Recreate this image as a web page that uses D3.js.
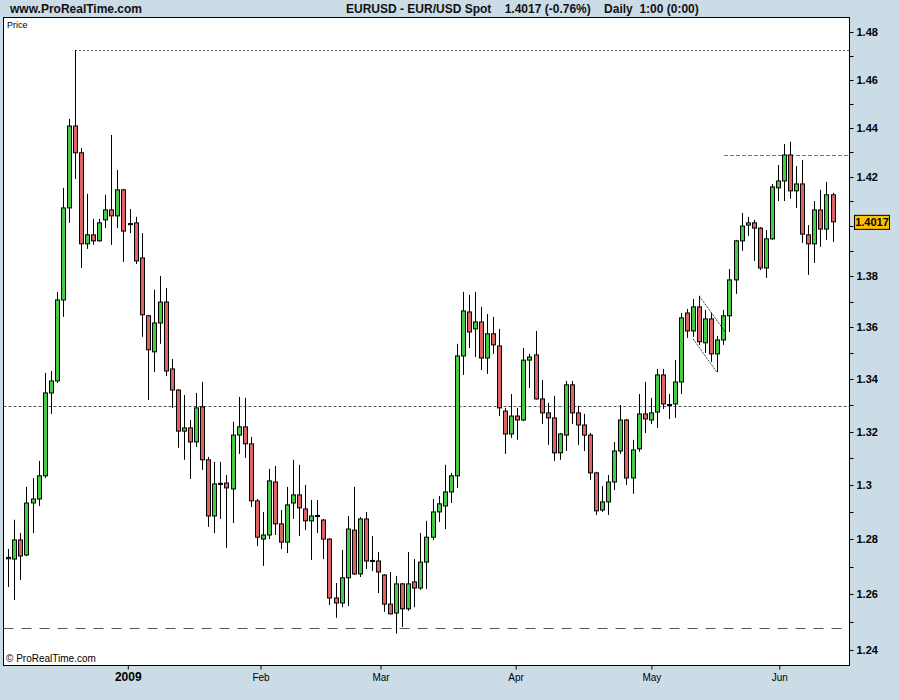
<!DOCTYPE html>
<html>
<head>
<meta charset="utf-8">
<script src="https://cdn.jsdelivr.net/npm/d3@7"></script>
<style>
  body { margin: 0; background: #cbdce6; }
  text { font-family: "Liberation Sans", Arial, sans-serif; }
</style>
</head>
<body>
<div id="chart"></div>
<script>
// daily EUR/USD candles: open, high, low, close
const opens = [1.2728,1.2727,1.2797,1.2742,1.2933,1.2948,1.3034,1.3347,1.3393,1.3707,1.4073,1.4407,1.4297,1.3929,1.3965,1.3941,1.4025,1.4065,1.4041,1.4146,
  1.4010,1.4013,1.3873,1.3645,1.3505,1.3617,1.3699,1.3439,1.3358,1.3202,1.3214,1.3161,1.3294,1.3094,1.2885,1.3006,1.3007,1.2985,1.3187,1.3218,
  1.3154,1.2941,1.2800,1.2815,1.3011,1.2856,1.2789,1.2933,1.2963,1.2911,1.2867,1.2887,1.2870,1.2800,1.2586,1.2568,1.2659,1.2833,1.2673,1.2874,
  1.2722,1.2720,1.2669,1.2564,1.2532,1.2637,1.2547,1.2644,1.2622,1.2716,1.2807,1.2900,1.2922,1.2974,1.3034,1.3489,1.3660,1.3594,1.3621,1.3481,
  1.3575,1.3528,1.3278,1.3191,1.3259,1.3244,1.3473,1.3493,1.3324,1.3271,1.3252,1.3120,1.3187,1.3378,1.3271,1.3225,1.3187,1.3045,1.2907,1.2937,
  1.3011,1.3127,1.3244,1.3026,1.3135,1.3267,1.3244,1.3274,1.3416,1.3303,1.3305,1.3389,1.3656,1.3586,1.3680,1.3540,1.3633,1.3497,1.3551,1.3645,
  1.3786,1.3941,1.4004,1.4013,1.3992,1.3833,1.3949,1.4154,1.4182,1.4288,1.4142,1.4170,1.3965,1.3929,1.4065,1.3988,1.4126];
const highs = [1.2764,1.2871,1.2822,1.2993,1.3026,1.3090,1.3424,1.3431,1.3739,1.4154,1.4436,1.4724,1.4317,1.4130,1.4029,1.4029,1.4126,1.4370,1.4227,1.4150,
  1.4069,1.4037,1.3972,1.3649,1.3747,1.3801,1.3754,1.3477,1.3362,1.3339,1.3244,1.3347,1.3389,1.3105,1.3086,1.3086,1.3037,1.3237,1.3332,1.3328,
  1.3180,1.2948,1.2900,1.3060,1.3071,1.2907,1.2993,1.3094,1.3075,1.3000,1.2944,1.2944,1.2874,1.2803,1.2640,1.2760,1.2885,1.2993,1.2881,1.2900,
  1.2811,1.2753,1.2672,1.2680,1.2666,1.2640,1.2753,1.2727,1.2822,1.2867,1.2948,1.2959,1.3075,1.3045,1.3536,1.3739,1.3727,1.3739,1.3680,1.3652,
  1.3641,1.3594,1.3290,1.3343,1.3290,1.3520,1.3497,1.3586,1.3397,1.3309,1.3336,1.3195,1.3393,1.3393,1.3298,1.3267,1.3195,1.3049,1.2996,1.3037,
  1.3161,1.3301,1.3248,1.3169,1.3343,1.3389,1.3328,1.3439,1.3439,1.3343,1.3473,1.3656,1.3672,1.3711,1.3723,1.3668,1.3656,1.3567,1.3668,1.3829,
  1.3945,1.4053,1.4037,1.4025,1.3996,1.3984,1.4170,1.4247,1.4333,1.4342,1.4243,1.4267,1.4004,1.4101,1.4146,1.4178,1.4134];
const lows = [1.2626,1.2579,1.2651,1.2738,1.2822,1.2922,1.3026,1.3267,1.3385,1.3641,1.4013,1.4190,1.3833,1.3909,1.3925,1.3938,1.3992,1.3925,1.3992,1.3857,
  1.3972,1.3849,1.3563,1.3320,1.3427,1.3536,1.3412,1.3290,1.3139,1.3094,1.3022,1.3142,1.3056,1.2845,1.2822,1.2874,1.2768,1.2859,1.3116,1.3101,
  1.2918,1.2775,1.2702,1.2800,1.2815,1.2764,1.2749,1.2874,1.2811,1.2834,1.2724,1.2822,1.2727,1.2561,1.2515,1.2553,1.2557,1.2670,1.2662,1.2691,
  1.2684,1.2604,1.2536,1.2527,1.2458,1.2482,1.2540,1.2553,1.2615,1.2619,1.2797,1.2863,1.2837,1.2933,1.2989,1.3416,1.3520,1.3485,1.3435,1.3420,
  1.3497,1.3259,1.3116,1.3176,1.3169,1.3240,1.3366,1.3322,1.3229,1.3150,1.3090,1.3094,1.3127,1.3229,1.3150,1.3127,1.3019,1.2889,1.2900,1.2889,
  1.2981,1.3116,1.3000,1.2967,1.3124,1.3195,1.3229,1.3214,1.3286,1.3248,1.3252,1.3343,1.3559,1.3563,1.3532,1.3501,1.3466,1.3427,1.3532,1.3582,
  1.3731,1.3901,1.3961,1.3861,1.3825,1.3794,1.3945,1.4101,1.4101,1.4110,1.4073,1.3933,1.3806,1.3853,1.3917,1.3945,1.3937];
const closes = [1.2733,1.2797,1.2738,1.2933,1.2948,1.3034,1.3347,1.3393,1.3707,1.4073,1.4407,1.4297,1.3929,1.3965,1.3941,1.4013,1.4065,1.4041,1.4146,1.3980,
  1.4006,1.3861,1.3649,1.3513,1.3617,1.3699,1.3431,1.3358,1.3202,1.3214,1.3161,1.3290,1.3094,1.2885,1.3004,1.3002,1.2989,1.3187,1.3218,1.3154,
  1.2941,1.2807,1.2815,1.3015,1.2856,1.2789,1.2926,1.2963,1.2915,1.2867,1.2885,1.2883,1.2800,1.2586,1.2568,1.2659,1.2837,1.2673,1.2874,1.2720,
  1.2719,1.2680,1.2564,1.2529,1.2637,1.2547,1.2637,1.2622,1.2716,1.2807,1.2900,1.2930,1.2974,1.3034,1.3489,1.3664,1.3582,1.3621,1.3481,1.3575,
  1.3532,1.3290,1.3191,1.3259,1.3244,1.3473,1.3485,1.3324,1.3271,1.3252,1.3120,1.3191,1.3378,1.3271,1.3225,1.3187,1.3045,1.2904,1.2937,1.3011,
  1.3127,1.3244,1.3026,1.3131,1.3267,1.3248,1.3271,1.3416,1.3305,1.3299,1.3389,1.3637,1.3586,1.3680,1.3544,1.3633,1.3497,1.3551,1.3645,1.3786,
  1.3941,1.4000,1.4013,1.3992,1.3833,1.3949,1.4158,1.4182,1.4288,1.4142,1.4170,1.3968,1.3929,1.4065,1.3988,1.4126,1.4017];

const priceTicks = [1.24,1.26,1.28,1.30,1.32,1.34,1.36,1.38,1.42,1.44,1.46,1.48];
const monthLabels = ["2009","Feb","Mar","Apr","May","Jun"];
const monthPos = [19.8,41.7,61.5,83.8,106.2,127.3]; // candle index of month start
const lastPrice = 1.4017;

// horizontal study lines: level, start index, style
const levels = [
  { p: 1.4724, from: 11, color: "#555", dash: "2,2" },
  { p: 1.4288, from: 118.1, color: "#2f7dff", dash: "4,2" },
  { p: 1.3297, from: -1, color: "#555", dash: "3,2" },
  { p: 1.2479, from: -1, color: "#555", dash: "10,8" }
];
// drawn flag lines [i1,p1,i2,p2]
const flagLines = [[114.0,1.3723,118.3,1.3582],[113.0,1.3555,116.9,1.3427]];

const W = 900, H = 700;
const plot = { left: 3.5, right: 849.5, top: 17.5, bottom: 665.5 };

const svg = d3.select("#chart").append("svg")
    .attr("width", W).attr("height", H);

svg.append("rect").attr("width", W).attr("height", H).attr("fill", "#cbdce6");
svg.append("rect")
    .attr("x", plot.left).attr("y", plot.top)
    .attr("width", plot.right - plot.left).attr("height", plot.bottom - plot.top)
    .attr("fill", "#fff").attr("stroke", "#000");

const x = d3.scaleLinear().domain([0, 136]).range([8.3, 832.5]);
const y = d3.scaleLog().domain([1.24, 1.48]).range([650, 32]);

// header
svg.append("text").attr("x", 10).attr("y", 13).text("www.ProRealTime.com")
    .style("font-size", "12px").style("font-weight", "bold").attr("fill", "#111");
svg.append("text").attr("x", 346).attr("y", 13)
    .text("EURUSD - EUR/USD Spot    1.4017 (-0.76%)    Daily  1:00 (0:00)")
    .attr("xml:space", "preserve")
    .style("font-size", "12px").style("font-weight", "bold").attr("fill", "#111");
svg.append("text").attr("x", 7).attr("y", 28).text("Price").style("font-size", "9px");
svg.append("text").attr("x", 6).attr("y", 662).text("© ProRealTime.com").style("font-size", "10px");

// right axis
const axisR = svg.append("g").attr("transform", `translate(${plot.right},0)`);
const minor = d3.range(1.24, 1.4801, 0.01);
axisR.selectAll("line.minor").data(minor).enter().append("line")
    .attr("x1", 0).attr("x2", 4)
    .attr("y1", d => Math.round(y(d)) + 0.5).attr("y2", d => Math.round(y(d)) + 0.5)
    .attr("stroke", "#000");
axisR.selectAll("text").data(priceTicks).enter().append("text")
    .attr("x", 7).attr("y", d => y(d) + 4)
    .text(d => +d.toFixed(2))
    .style("font-size", "11px").style("font-weight", "bold");

// bottom axis
const axisB = svg.append("g");
monthPos.forEach((m, i) => {
  axisB.append("line").attr("x1", x(m)).attr("x2", x(m))
      .attr("y1", plot.bottom).attr("y2", plot.bottom + 4).attr("stroke", "#000");
  axisB.append("text").attr("x", x(m)).attr("y", 681).attr("text-anchor", "middle")
      .text(monthLabels[i])
      .style("font-size", i === 0 ? "12px" : "10px")
      .style("font-weight", i === 0 ? "bold" : "normal");
});

// levels
levels.forEach(l => {
  svg.append("line")
      .attr("x1", l.from < 0 ? plot.left : x(l.from)).attr("x2", plot.right)
      .attr("y1", Math.round(y(l.p)) + 0.5).attr("y2", Math.round(y(l.p)) + 0.5)
      .attr("stroke", l.color).attr("stroke-dasharray", l.dash);
});

// candles
const data = opens.map((o, i) => ({ i, o, h: highs[i], l: lows[i], c: closes[i] }));
const g = svg.append("g");
g.selectAll("line.wick").data(data).enter().append("line")
    .attr("x1", d => Math.round(x(d.i)) + 0.5).attr("x2", d => Math.round(x(d.i)) + 0.5)
    .attr("y1", d => y(d.h)).attr("y2", d => y(d.l))
    .attr("stroke", "#000").attr("stroke-width", 1);
g.selectAll("rect").data(data).enter().append("rect")
    .attr("x", d => Math.round(x(d.i)) - 1.5)
    .attr("y", d => y(Math.max(d.o, d.c)))
    .attr("width", 4)
    .attr("height", d => Math.max(1, y(Math.min(d.o, d.c)) - y(Math.max(d.o, d.c))))
    .attr("fill", d => d.c >= d.o ? "#45cc45" : "#e06363")
    .attr("stroke", "#000").attr("stroke-width", 1);

// flag
flagLines.forEach(f => {
  svg.append("line").attr("x1", x(f[0])).attr("y1", y(f[1]))
      .attr("x2", x(f[2])).attr("y2", y(f[3]))
      .attr("stroke", "#000").attr("stroke-width", 1).attr("stroke-dasharray", "1,1");
});

// last price tag
const ly = y(lastPrice);
svg.append("rect").attr("x", 854.5).attr("y", ly - 6.5).attr("width", 35).attr("height", 14)
    .attr("fill", "#ffc000").attr("stroke", "#000");
svg.append("text").attr("x", 872).attr("y", ly + 4).attr("text-anchor", "middle")
    .text(lastPrice.toFixed(4)).style("font-size", "11px").style("font-weight", "bold");
</script>
</body>
</html>
